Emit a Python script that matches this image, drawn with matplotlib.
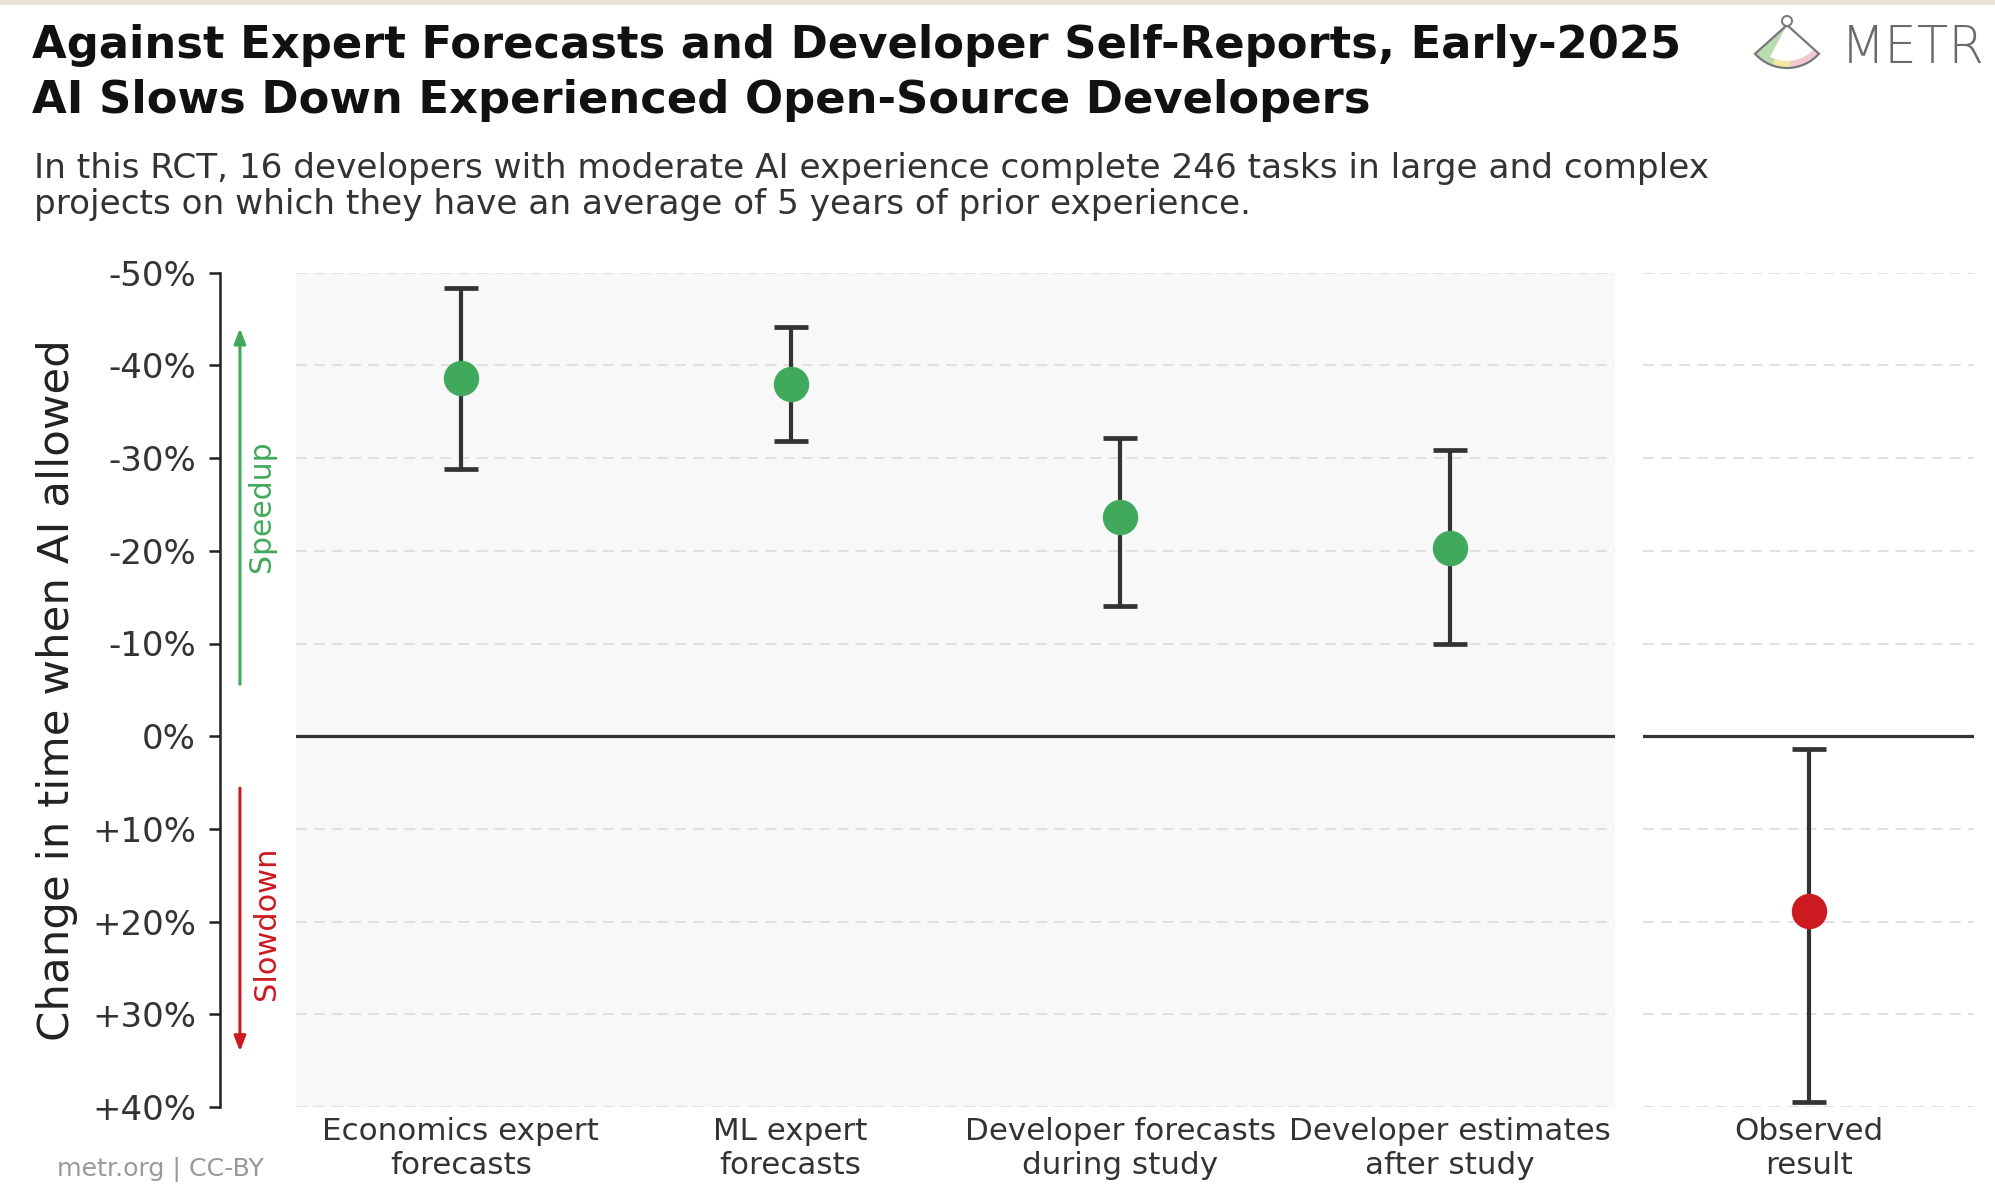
import matplotlib
matplotlib.use("Agg")
import matplotlib.pyplot as plt
from matplotlib.patches import Wedge, Circle, Rectangle

# data (negative = speedup, positive = slowdown)
categories = ["Economics expert\nforecasts", "ML expert\nforecasts",
              "Developer forecasts\nduring study", "Developer estimates\nafter study"]
forecast_mean = [-38.6, -38.0, -23.7, -20.3]
forecast_ci_low = [-48.4, -44.1, -32.2, -30.9]
forecast_ci_high = [-28.8, -31.8, -14.0, -9.9]

observed_label = ["Observed\nresult"]
observed_mean = [18.9]
observed_ci_low = [1.4]
observed_ci_high = [39.5]

yticks = [-50, -40, -30, -20, -10, 0, 10, 20, 30, 40]

W, H = 1995, 1186
GREEN = "#41a95b"
RED = "#cc1a21"
DARK = "#333333"
GRID = "#dedede"

plt.rcParams["font.family"] = ["DejaVu Sans"]

fig = plt.figure(figsize=(W / 100, H / 100), dpi=100)
fig.patch.set_facecolor("white")


def fig_box(x0, x1, y0, y1):
    # pixel box (top-left origin) -> figure fraction rect
    return [x0 / W, 1 - y1 / H, (x1 - x0) / W, (y1 - y0) / H]


def style_panel(ax):
    ax.set_ylim(40, -50)
    for y in yticks:
        if y == 0:
            ax.axhline(0, color=DARK, lw=2.3, zorder=2)
        else:
            ax.axhline(y, color=GRID, lw=1.3, ls=(0, (6, 4)), zorder=1)
    for s in ["top", "right", "bottom", "left"]:
        ax.spines[s].set_visible(False)


def draw_points(ax, xs, mean, lo, hi, color):
    yerr = [[m - l for m, l in zip(mean, lo)], [h - m for m, h in zip(mean, hi)]]
    ax.errorbar(xs, mean, yerr=yerr, fmt="none", ecolor=DARK, elinewidth=3.0,
                capsize=12, capthick=3.4, zorder=3)
    ax.plot(xs, mean, "o", color=color, markersize=25.5, markeredgewidth=0, zorder=4)


# forecasts panel
ax1 = fig.add_axes(fig_box(296, 1615, 272.7, 1107))
ax1.set_facecolor("#f8f8f8")
style_panel(ax1)
xs = list(range(len(categories)))
ax1.set_xlim(-0.5, len(categories) - 0.5)
draw_points(ax1, xs, forecast_mean, forecast_ci_low, forecast_ci_high, GREEN)

ax1.spines["left"].set_visible(True)
ax1.spines["left"].set_position(("outward", 55))
ax1.spines["left"].set_linewidth(1.8)
ax1.spines["left"].set_color("#222222")
ax1.set_yticks(yticks)
ax1.set_yticklabels([f"+{v}%" if v > 0 else f"{v}%" for v in yticks])
ax1.tick_params(axis="y", length=8, width=1.8, color="#222222", pad=9,
                labelsize=24.5, labelcolor=DARK)
ax1.set_xticks(xs)
ax1.set_xticklabels(categories, linespacing=1.22)
ax1.tick_params(axis="x", length=0, pad=7, labelsize=22.3, labelcolor=DARK)

# speedup / slowdown arrows
ax1.annotate("", xy=(-0.0425, -44), xytext=(-0.0425, -5.6),
             xycoords=("axes fraction", "data"), annotation_clip=False,
             arrowprops=dict(arrowstyle="-|>,head_length=0.9,head_width=0.35",
                             color=GREEN, lw=2.2, shrinkA=0, shrinkB=0))
ax1.annotate("", xy=(-0.0425, 34), xytext=(-0.0425, 5.6),
             xycoords=("axes fraction", "data"), annotation_clip=False,
             arrowprops=dict(arrowstyle="-|>,head_length=0.9,head_width=0.35",
                             color=RED, lw=2.2, shrinkA=0, shrinkB=0))
ax1.text(-0.0265, -24.8, "Speedup", transform=ax1.get_yaxis_transform(),
         rotation=90, ha="center", va="center", fontsize=21.5, color=GREEN)
ax1.text(-0.0225, 20.2, "Slowdown", transform=ax1.get_yaxis_transform(),
         rotation=90, ha="center", va="center", fontsize=22, color=RED)

# observed panel
ax2 = fig.add_axes(fig_box(1643, 1974, 272.7, 1107))
ax2.set_facecolor("white")
style_panel(ax2)
ax2.set_xlim(-0.5, 0.5)
draw_points(ax2, [0], observed_mean, observed_ci_low, observed_ci_high, RED)
ax2.set_yticks([])
ax2.set_xticks([0])
ax2.set_xticklabels(observed_label, linespacing=1.22)
ax2.tick_params(axis="x", length=0, pad=7, labelsize=22.3, labelcolor=DARK)

# texts
fig.text(57 / W, 1 - 690 / H, "Change in time when AI allowed", rotation=90,
         ha="center", va="center", fontsize=31.3, color="#222222")
fig.text(32 / W, 1 - 58 / H, "Against Expert Forecasts and Developer Self-Reports, Early-2025",
         ha="left", va="baseline", fontsize=32.3, fontweight="bold", color="#111111")
fig.text(32 / W, 1 - 113 / H, "AI Slows Down Experienced Open-Source Developers",
         ha="left", va="baseline", fontsize=32.3, fontweight="bold", color="#111111")
fig.text(34 / W, 1 - 178 / H,
         "In this RCT, 16 developers with moderate AI experience complete 246 tasks in large and complex",
         ha="left", va="baseline", fontsize=24.7, color=DARK)
fig.text(34 / W, 1 - 214 / H,
         "projects on which they have an average of 5 years of prior experience.",
         ha="left", va="baseline", fontsize=24.7, color=DARK)
fig.text(57 / W, 1 - 1176 / H, "metr.org | CC-BY", ha="left", va="baseline",
         fontsize=18.2, color="#999999")

# logo
lg = fig.add_axes([0, 0, 1, 1], zorder=-1)
lg.set_xlim(0, W)
lg.set_ylim(H, 0)
lg.axis("off")
lg.add_patch(Rectangle((0, 0), W, 5, color="#ebe4d6", lw=0))
apex = (1787, 25)
lg.add_patch(Wedge(apex, 43, 42, 138, facecolor="#f3c9cc", lw=0))
lg.add_patch(Wedge(apex, 43, 110, 138, facecolor="#b9dcae", lw=0))
lg.add_patch(Wedge(apex, 43, 85, 110, facecolor="#f1e7a2", lw=0))
lg.add_patch(Wedge(apex, 36, 42, 118, facecolor="white", lw=0))
lg.add_patch(Wedge(apex, 43, 42, 138, facecolor="none", edgecolor="#777777", lw=1.6))
lg.add_patch(Circle((1787, 21), 5, facecolor="white", edgecolor="#777777", lw=1.4))
fig.text(1841 / W, 1 - 63 / H, "METR", ha="left", va="baseline", fontsize=37,
         fontweight="light", color="#6a6a6a")

fig.savefig("out.png", dpi=100)
